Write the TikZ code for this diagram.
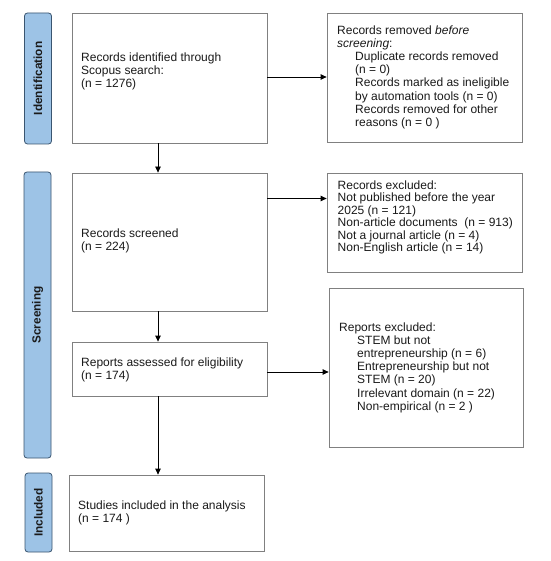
\documentclass[tikz,border=0pt]{standalone}
\usepackage{fontspec}
\setmainfont{Liberation Sans}
\usetikzlibrary{arrows.meta}
\definecolor{barfill}{HTML}{9DC3E6}
\definecolor{barline}{HTML}{3A5570}
\definecolor{boxline}{HTML}{808080}
\definecolor{txt}{HTML}{1A1A1A}
\begin{document}
\begin{tikzpicture}[x=1pt,y=1pt,
  box/.style={draw=boxline, line width=0.8pt, minimum width=195pt, inner sep=0pt, fill=white},
  bar/.style={draw=barline, fill=barfill, line width=0.8pt, rounded corners=3pt, minimum width=27pt, inner sep=0pt},
  lab/.style={rotate=90, font=\fontsize{11.8}{13}\selectfont\bfseries, text=txt, inner sep=0pt},
  tx/.style={anchor=north west, inner sep=0pt, align=left, font=\fontsize{12}{13.2}\selectfont, text=txt},
  txb/.style={tx, font=\fontsize{12}{12.5}\selectfont},
  arr/.style={-{Triangle[length=6pt,width=5.5pt]}, line width=0.8pt, draw=black}]

\useasboundingbox[fill=white] (0,0) rectangle (550,-561);

% phase bars
\node[bar, minimum height=131pt] (barid) at (38,-78.5) {};
\node[lab] (labid) at (barid.center) {Identification};
\node[bar, minimum height=286pt] (barscr) at (37.5,-315) {};
\node[lab] (labscr) at (barscr.center) {Screening};
\node[bar, minimum height=79pt] (barinc) at (38.5,-512.5) {};
\node[lab] (labinc) at (barinc.center) {Included};

% boxes
\node[box, minimum height=130pt] (b1) at (169.5,-78) {};
\node[box, minimum height=129pt] (r1) at (424.5,-77.5) {};
\node[box, minimum height=138pt] (b2) at (169.5,-242) {};
\node[box, minimum height=99pt] (r2) at (424.5,-222.5) {};
\node[box, minimum height=54pt] (b3) at (169.5,-369) {};
\node[box, minimum width=194pt, minimum height=159pt] (r3) at (426,-367.5) {};
\node[box, minimum height=76pt] (b4) at (166.5,-513) {};

% texts
\node[tx] (t1) at (81,-52.2) {Records identified through\\Scopus search:\\(n = 1276)};
\node[tx] (tr1) at (337,-25.2) {Records removed \textit{before}\\\textit{screening}:\\
\hspace*{18pt}Duplicate records removed\\\hspace*{18pt}(n = 0)\\
\hspace*{18pt}Records marked as ineligible\\\hspace*{18pt}by automation tools (n = 0)\\
\hspace*{18pt}Records removed for other\\\hspace*{18pt}reasons (n = 0 )};
\node[tx] (t2) at (81,-228.2) {Records screened\\(n = 224)};
\node[txb] (tr2) at (337.5,-180.2) {Records excluded:\\Not published before the year\\2025 (n = 121)\\Non-article documents~ (n = 913)\\Not a journal article (n = 4)\\Non-English article (n = 14)};
\node[tx] (t3) at (81,-357.2) {Reports assessed for eligibility\\(n = 174)};
\node[tx] (tr3) at (339,-322.2) {Reports excluded:\\
\hspace*{18pt}STEM but not\\\hspace*{18pt}entrepreneurship (n = 6)\\
\hspace*{18pt}Entrepreneurship but not\\\hspace*{18pt}STEM (n = 20)\\
\hspace*{18pt}Irrelevant domain (n = 22)\\\hspace*{18pt}Non-empirical (n = 2 )};
\node[tx] (t4) at (78,-500.2) {Studies included in the analysis\\(n = 174 )};

% connector reference coordinates
\coordinate (ax) at (158,0);
\coordinate (y1) at (0,-77);
\coordinate (y2) at (0,-198.5);
\coordinate (y3) at (0,-372);

\draw[arr] (b1.south -| ax) -- (b2.north -| ax);
\draw[arr] (b2.south -| ax) -- (b3.north -| ax);
\draw[arr] (b3.south -| ax) -- (b4.north -| ax);
\draw[arr] (b1.east |- y1) -- (r1.west |- y1);
\draw[arr] (b2.east |- y2) -- (r2.west |- y2);
\draw[arr] (b3.east |- y3) -- (r3.west |- y3);
\end{tikzpicture}
\end{document}
